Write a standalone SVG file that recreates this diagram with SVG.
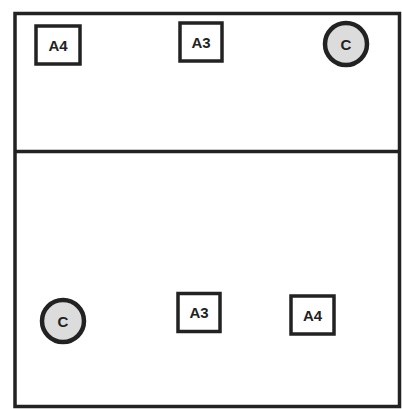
<svg xmlns="http://www.w3.org/2000/svg" width="402" height="409" viewBox="0 0 402 409">
<style>
.frame{fill:none;stroke:#222;stroke-width:3.5}
.box{fill:#fff;stroke:#222;stroke-width:3.5}
.circ{fill:#dcdcdc;stroke:#222;stroke-width:4.5}
.lbl{font-family:"Liberation Sans",Arial,sans-serif;font-weight:bold;font-size:15px;fill:#222;text-anchor:middle;dominant-baseline:central}
</style>
<rect width="402" height="409" fill="#fff"/>
<g id="frame">
<rect class="frame" x="15" y="13.5" width="384.5" height="393"/>
<line class="frame" x1="14" y1="151.5" x2="400" y2="151.5"/>
</g>
<g id="connectors"></g>
<g id="a4-top"><rect class="box" x="36" y="26" width="44" height="38"/><text class="lbl" x="58" y="45.5">A4</text></g>
<g id="a3-top"><rect class="box" x="180" y="23" width="42" height="38"/><text class="lbl" x="201" y="42">A3</text></g>
<g id="c-top"><circle class="circ" cx="346" cy="44" r="21"/><text class="lbl" x="346" y="44">C</text></g>
<g id="c-bottom"><circle class="circ" cx="63" cy="321" r="21"/><text class="lbl" x="63" y="321">C</text></g>
<g id="a3-bottom"><rect class="box" x="178" y="293.5" width="42" height="38"/><text class="lbl" x="199" y="312.5">A3</text></g>
<g id="a4-bottom"><rect class="box" x="291" y="296" width="43" height="38"/><text class="lbl" x="312.5" y="315">A4</text></g>
</svg>
